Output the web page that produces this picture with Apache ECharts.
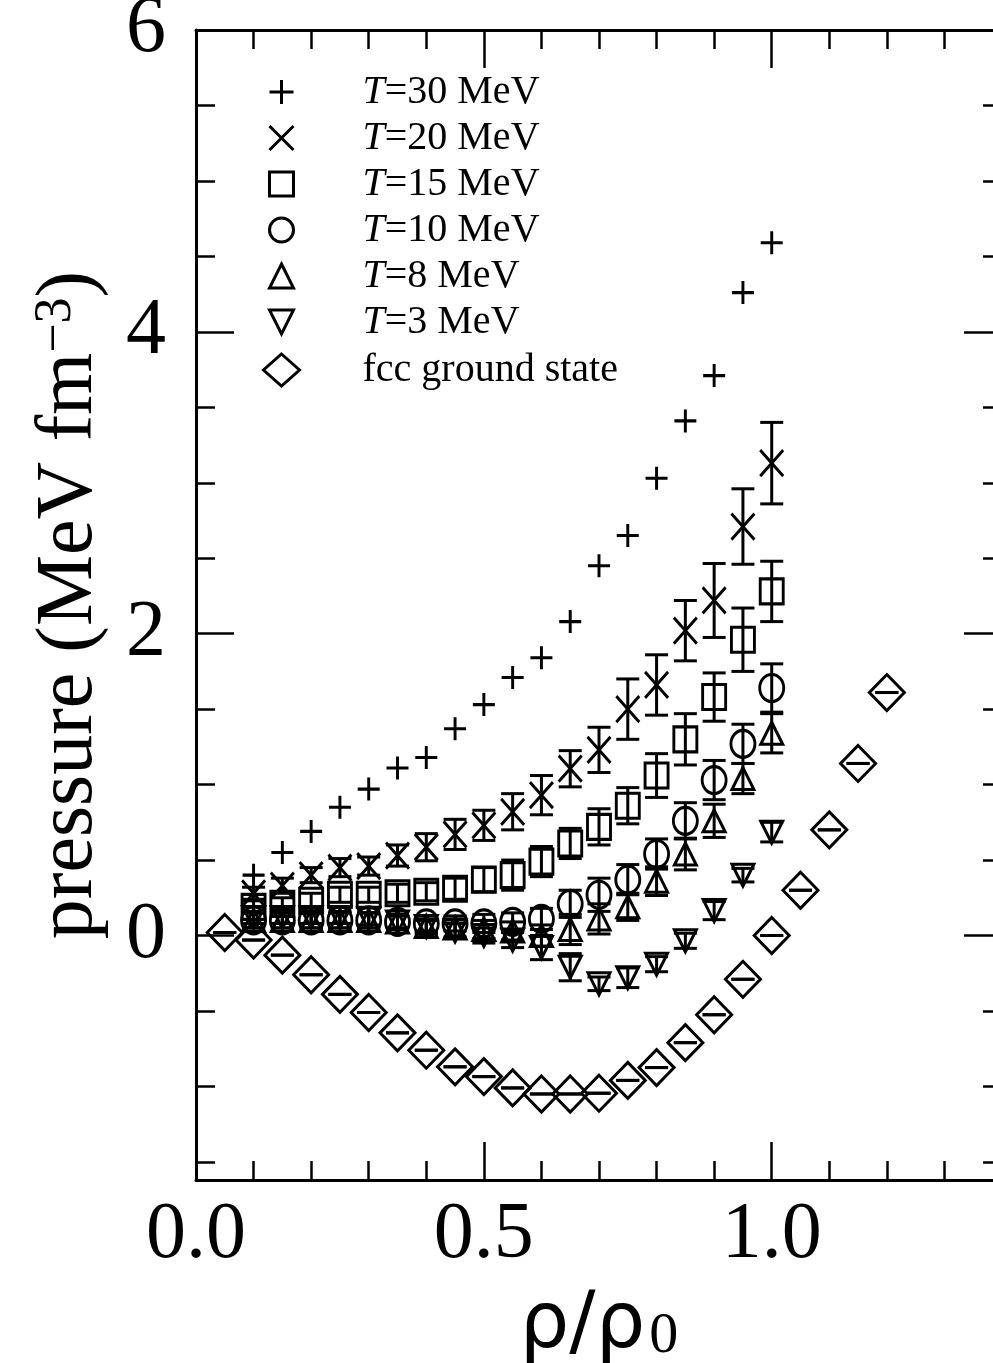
<!DOCTYPE html>
<html>
<head>
<meta charset="utf-8">
<script src="https://cdn.jsdelivr.net/npm/echarts@6/dist/echarts.min.js"></script>
<style>
  html, body { margin: 0; padding: 0; background: #fff; }
  #main { width: 993px; height: 1363px; }
</style>
</head>
<body>
<div id="main"></div>
<script>
// density rho/rho0 for the finite-temperature runs
var xs = [0.1, 0.15, 0.2, 0.25, 0.3, 0.35, 0.4, 0.45, 0.5, 0.55, 0.6, 0.65, 0.7, 0.75, 0.8, 0.85, 0.9, 0.95, 1.0];

var t30 = [0.40, 0.55, 0.69, 0.85, 0.97, 1.11, 1.18, 1.37, 1.53, 1.71, 1.84, 2.08, 2.45, 2.65, 3.03, 3.41, 3.71, 4.26, 4.59];

var t20 = [0.28, 0.33, 0.40, 0.45, 0.46, 0.53, 0.585, 0.67, 0.73, 0.82, 0.93, 1.105, 1.23, 1.50, 1.66, 2.02, 2.22, 2.71, 3.13];
var t20err = [0.04, 0.05, 0.05, 0.06, 0.06, 0.07, 0.09, 0.1, 0.1, 0.12, 0.13, 0.12, 0.15, 0.2, 0.2, 0.2, 0.245, 0.25, 0.27];

var t15 = [0.19, 0.21, 0.23, 0.27, 0.27, 0.28, 0.29, 0.31, 0.37, 0.40, 0.49, 0.61, 0.72, 0.86, 1.06, 1.30, 1.58, 1.96, 2.28];
var t15err = [0.04, 0.04, 0.05, 0.05, 0.05, 0.06, 0.06, 0.07, 0.08, 0.1, 0.1, 0.1, 0.12, 0.12, 0.145, 0.17, 0.16, 0.21, 0.2];

var t10 = [0.10, 0.10, 0.10, 0.10, 0.10, 0.09, 0.08, 0.08, 0.08, 0.09, 0.11, 0.21, 0.27, 0.37, 0.54, 0.76, 1.03, 1.27, 1.64];
var t10err = [0.05, 0.05, 0.05, 0.05, 0.05, 0.05, 0.05, 0.05, 0.06, 0.06, 0.07, 0.09, 0.11, 0.1, 0.1, 0.12, 0.13, 0.13, 0.16];

var t8 = [0.10, 0.10, 0.10, 0.10, 0.10, 0.09, 0.06, 0.05, 0.04, 0.03, 0.0, 0.04, 0.11, 0.19, 0.36, 0.54, 0.76, 1.04, 1.34];
var t8err = [0.05, 0.05, 0.05, 0.05, 0.05, 0.05, 0.05, 0.06, 0.06, 0.06, 0.07, 0.1, 0.1, 0.09, 0.095, 0.105, 0.11, 0.1, 0.13];

var t3 = [0.12, 0.12, 0.12, 0.12, 0.11, 0.09, 0.06, 0.03, 0.0, -0.03, -0.08, -0.21, -0.32, -0.28, -0.19, -0.035, 0.165, 0.40, 0.685];
var t3err = [0.04, 0.04, 0.04, 0.04, 0.04, 0.04, 0.04, 0.05, 0.05, 0.05, 0.08, 0.09, 0.045, 0.065, 0.05, 0.05, 0.06, 0.045, 0.065];

// fcc ground state
var fccX = [0.05, 0.1, 0.15, 0.2, 0.25, 0.3, 0.35, 0.4, 0.45, 0.5, 0.55, 0.6, 0.65, 0.7, 0.75, 0.8, 0.85, 0.9, 0.95, 1.0, 1.05, 1.1, 1.15, 1.2];
var fcc = [0.02, -0.03, -0.13, -0.26, -0.39, -0.51, -0.645, -0.76, -0.87, -0.935, -1.01, -1.05, -1.05, -1.045, -0.96, -0.875, -0.71, -0.525, -0.29, 0.0, 0.30, 0.70, 1.14, 1.61];

var names = ['T=30 MeV', 'T=20 MeV', 'T=15 MeV', 'T=10 MeV', 'T=8 MeV', 'T=3 MeV', 'fcc ground state'];

var xMajor = [0, 0.5, 1.0];
var xMinor = [0.1, 0.2, 0.3, 0.4, 0.6, 0.7, 0.8, 0.9, 1.1, 1.2, 1.3];
var yMajor = [0, 2, 4, 6];
var yMinor = [-1.5, -1, -0.5, 0.5, 1, 1.5, 2.5, 3, 3.5, 4.5, 5, 5.5];

var serif = 'Liberation Serif';
var LW = 3;

function pts(x, y) {
    return x.map(function (v, i) { return [v, y[i]]; });
}
function bars(x, y, e) {
    return x.map(function (v, i) { return [v, y[i] - e[i], y[i] + e[i]]; });
}

// error bar: vertical stem with caps
function errBar(params, api) {
    var x = api.value(0);
    var lo = api.coord([x, api.value(1)]);
    var hi = api.coord([x, api.value(2)]);
    var w = 11.5;
    var st = { stroke: '#000', lineWidth: LW };
    return {
        type: 'group',
        children: [
            { type: 'line', shape: { x1: hi[0], y1: hi[1], x2: lo[0], y2: lo[1] }, style: st },
            { type: 'line', shape: { x1: hi[0] - w, y1: hi[1], x2: hi[0] + w, y2: hi[1] }, style: st },
            { type: 'line', shape: { x1: lo[0] - w, y1: lo[1], x2: lo[0] + w, y2: lo[1] }, style: st }
        ]
    };
}

var hollow = { color: 'transparent', borderColor: '#000', borderWidth: LW, opacity: 1 };

function scatter(name, data, symbol, size) {
    return {
        name: name, type: 'scatter', data: data, symbol: symbol, symbolSize: size,
        itemStyle: hollow, emphasis: { disabled: true }, z: 3
    };
}
function errSeries(data) {
    return {
        type: 'custom', renderItem: errBar, data: data,
        encode: { x: 0, y: [1, 2] }, silent: true, z: 2
    };
}

function xAx(pos, ticks, len, showLine, showLabel) {
    return {
        type: 'value', position: pos, min: 0, max: 1.4,
        axisLine: { show: showLine, onZero: false, lineStyle: { color: '#000', width: LW } },
        axisTick: { show: true, inside: true, length: len, customValues: ticks, lineStyle: { color: '#000', width: 2.5 } },
        axisLabel: showLabel ? {
            show: true, customValues: ticks, margin: 16,
            fontFamily: serif, fontSize: 80, color: '#000',
            formatter: function (v) { return v.toFixed(1); }
        } : { show: false },
        splitLine: { show: false }
    };
}
function yAx(pos, ticks, len, showLine, showLabel) {
    return {
        type: 'value', position: pos, min: -1.62, max: 6,
        axisLine: { show: showLine, onZero: false, lineStyle: { color: '#000', width: LW } },
        axisTick: { show: true, inside: true, length: len, customValues: ticks, lineStyle: { color: '#000', width: 2.5 } },
        axisLabel: showLabel ? {
            show: true, customValues: ticks, margin: 30,
            fontFamily: serif, fontSize: 80, color: '#000'
        } : { show: false },
        splitLine: { show: false }
    };
}

var xAxes = [
    xAx('bottom', xMajor, 38, true, true),
    xAx('bottom', xMinor, 19, false, false),
    xAx('top', xMajor, 38, true, false),
    xAx('top', xMinor, 19, false, false)
];
xAxes[0].name = '{g|ρ/ρ}{s|0}';
xAxes[0].nameLocation = 'middle';
xAxes[0].nameGap = 108;
xAxes[0].nameTextStyle = {
    rich: {
        g: { fontFamily: 'DejaVu Sans', fontSize: 78, color: '#000' },
        s: { fontFamily: serif, fontSize: 58, color: '#000', verticalAlign: 'bottom', padding: [0, 0, 0, 4] }
    }
};

var yAxes = [
    yAx('left', yMajor, 38, true, true),
    yAx('left', yMinor, 19, false, false),
    yAx('right', yMajor, 38, true, false),
    yAx('right', yMinor, 19, false, false)
];
yAxes[0].name = '{a|pressure (MeV fm}{s|−3}{a|)}';
yAxes[0].nameLocation = 'middle';
yAxes[0].nameGap = 86;
yAxes[0].nameTextStyle = {
    rich: {
        a: { fontFamily: serif, fontSize: 80, color: '#000' },
        s: { fontFamily: serif, fontSize: 52, color: '#000', verticalAlign: 'top' }
    }
};

function legendLabel(name) {
    if (name.charAt(0) === 'T') {
        return '{it|T}{tx|' + name.slice(1) + '}';
    }
    return '{fc|' + name + '}';
}

var plus = 'path://M0,5L10,5M5,0L5,10';
var cross = 'path://M0,0L10,10M10,0L0,10';

var option = {
    animation: false,
    backgroundColor: '#fff',
    grid: { left: 196, top: 30, width: 806, height: 1150, containLabel: false, outerBoundsMode: 'none' },
    legend: [{
        data: names.slice(0, 6),
        orient: 'vertical', left: 263, top: 64,
        itemWidth: 24, itemHeight: 24, itemGap: 0,
        selectedMode: false,
        itemStyle: { borderWidth: LW, opacity: 1 },
        formatter: legendLabel,
        textStyle: {
            color: '#000', fontFamily: serif, fontSize: 40, lineHeight: 46,
            rich: {
                it: { fontFamily: serif, fontStyle: 'italic', fontSize: 40, color: '#000', padding: [0, 0, 0, 64] },
                tx: { fontFamily: serif, fontSize: 40, color: '#000' }
            }
        }
    }, {
        data: names.slice(6),
        orient: 'vertical', left: 257, top: 342,
        itemWidth: 36, itemHeight: 32, itemGap: 0,
        selectedMode: false,
        itemStyle: { borderWidth: LW, opacity: 1 },
        formatter: legendLabel,
        textStyle: {
            color: '#000', fontFamily: serif, fontSize: 40, lineHeight: 46,
            rich: {
                fc: { fontFamily: serif, fontSize: 40, color: '#000', padding: [0, 0, 0, 58] }
            }
        }
    }],
    xAxis: xAxes,
    yAxis: yAxes,
    series: [
        scatter(names[0], pts(xs, t30), plus, [22, 23]),
        scatter(names[1], pts(xs, t20), cross, [23, 26]),
        scatter(names[2], pts(xs, t15), 'rect', [23, 25]),
        scatter(names[3], pts(xs, t10), 'circle', [24, 27]),
        scatter(names[4], pts(xs, t8), 'triangle', [22, 22]),
        scatter(names[5], pts(xs, t3), 'path://M0,0L10,0L5,10Z', [22, 22]),
        scatter(names[6], pts(fccX, fcc), 'diamond', [35, 36]),
        errSeries(bars(xs, t20, t20err)),
        errSeries(bars(xs, t15, t15err)),
        errSeries(bars(xs, t10, t10err)),
        errSeries(bars(xs, t8, t8err)),
        errSeries(bars(xs, t3, t3err)),
        errSeries(bars(fccX, fcc, fccX.map(function () { return 0; })))
    ]
};

var chart = echarts.init(document.getElementById('main'));
chart.setOption(option);
</script>
</body>
</html>
